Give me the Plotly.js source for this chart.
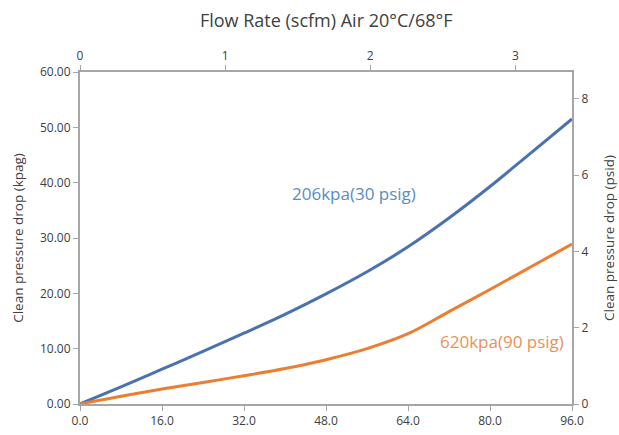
<!DOCTYPE html>
<html><head><meta charset="utf-8">
<script src="https://cdn.plot.ly/plotly-3.0.1.min.js"></script>
<style>html,body{margin:0;padding:0;background:#fff}#chart{width:619px;height:435px}</style>
</head><body><div id="chart"></div>
<script>
const flowLpm = [0, 8, 16, 24, 32, 40, 48, 56, 64, 72, 80, 88, 96];
const drop206 = [0, 3.1, 6.3, 9.5, 12.8, 16.2, 19.9, 23.9, 28.4, 33.6, 39.3, 45.4, 51.5];
const drop620 = [0, 1.4, 2.7, 3.9, 5.1, 6.4, 8.0, 10.0, 12.7, 16.7, 20.7, 24.8, 28.9];
const bottomTicks = [0, 16, 32, 48, 64, 80, 96];
const leftTicks = [0, 10, 20, 30, 40, 50, 60];
const topTicks = [0, 1, 2, 3];
const rightTicks = [0, 2, 4, 6, 8];
const LPM_PER_SCFM = 28.3168, KPA_PER_PSI = 6.895;

const axisCol = '#a6a6a6', txtCol = '#404040';
const fnt = {family: 'Open Sans, DejaVu Sans, sans-serif', size: 12, color: txtCol};
const titleFnt = {family: 'Open Sans, DejaVu Sans, sans-serif', size: 13.5, color: txtCol};

const traces = [
  {x: flowLpm, y: drop206, mode: 'lines', line: {color: '#4a72b0', width: 3, shape: 'spline', smoothing: 1}, hoverinfo: 'skip'},
  {x: flowLpm, y: drop620, mode: 'lines', line: {color: '#ed7d31', width: 3, shape: 'spline', smoothing: 1}, hoverinfo: 'skip'},
  {x: flowLpm.map(v => v / LPM_PER_SCFM), y: drop206.map(v => v / KPA_PER_PSI), xaxis: 'x2', yaxis: 'y2',
   mode: 'lines', line: {color: 'rgba(0,0,0,0)', width: 0}, hoverinfo: 'skip'}
];

const layout = {
  width: 619, height: 435,
  margin: {l: 80, r: 47, t: 72, b: 31},
  showlegend: false,
  paper_bgcolor: '#fff', plot_bgcolor: '#fff',
  font: fnt,
  title: {text: 'Flow Rate (scfm) Air 20°C/68°F', x: 0.527, xanchor: 'center', y: 0.952, yanchor: 'middle',
          font: {family: 'Open Sans, DejaVu Sans, sans-serif', size: 18, color: txtCol}},
  xaxis: {range: [0, 96], tickmode: 'array', tickvals: bottomTicks, ticktext: bottomTicks.map(v => v.toFixed(1)),
          showgrid: false, zeroline: false, showline: true, linecolor: axisCol, linewidth: 2,
          ticks: 'outside', ticklen: 5, tickcolor: axisCol, tickfont: fnt},
  yaxis: {range: [0, 60], tickmode: 'array', tickvals: leftTicks, ticktext: leftTicks.map(v => v.toFixed(2)),
          showgrid: false, zeroline: false, showline: true, linecolor: axisCol, linewidth: 2,
          ticks: 'outside', ticklen: 5, tickcolor: axisCol, tickfont: fnt,
          title: {text: 'Clean pressure drop (kpag)', font: titleFnt, standoff: 13}},
  xaxis2: {overlaying: 'x', side: 'top', range: [0, 96 / LPM_PER_SCFM], tickmode: 'array', tickvals: topTicks,
           ticktext: topTicks.map(String), showgrid: false, zeroline: false, showline: true, linecolor: axisCol,
           linewidth: 2, ticks: 'outside', ticklen: 5, tickcolor: axisCol, tickfont: fnt},
  yaxis2: {overlaying: 'y', side: 'right', range: [0, 60 / KPA_PER_PSI], tickmode: 'array', tickvals: rightTicks,
           ticktext: rightTicks.map(String), showgrid: false, zeroline: false, showline: true, linecolor: axisCol,
           linewidth: 2, ticks: 'outside', ticklen: 5, tickcolor: axisCol, tickfont: fnt,
           title: {text: 'Clean pressure drop (psid)', font: titleFnt, standoff: 17}},
  annotations: [
    {text: '206kpa(30 psig)', x: 53.5, y: 38, xref: 'x', yref: 'y', showarrow: false,
     font: {family: 'Open Sans, DejaVu Sans, sans-serif', size: 17, color: '#5b8bc4'}},
    {text: '620kpa(90 psig)', x: 82.3, y: 11.3, xref: 'x', yref: 'y', showarrow: false,
     font: {family: 'Open Sans, DejaVu Sans, sans-serif', size: 17, color: '#e8915a'}}
  ]
};

Plotly.newPlot('chart', traces, layout, {displayModeBar: false, staticPlot: true});
</script></body></html>
